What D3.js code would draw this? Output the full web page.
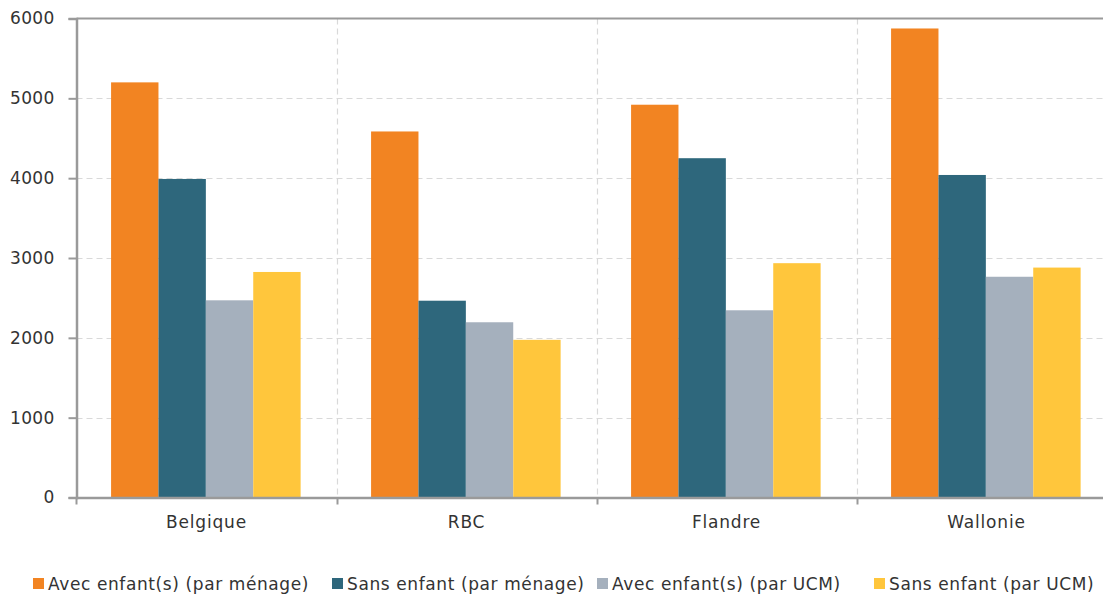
<!DOCTYPE html>
<html>
<head>
<meta charset="utf-8">
<script src="https://cdn.jsdelivr.net/npm/d3@7"></script>
<style>
  html, body { margin: 0; padding: 0; background: #fff; }
  svg { display: block; font-family: "DejaVu Sans", Verdana, sans-serif; }
</style>
</head>
<body>
<svg id="chart" width="1103" height="598"></svg>
<script>
const categories = ["Belgique", "RBC", "Flandre", "Wallonie"];
const seriesNames = [
  "Avec enfant(s) (par ménage)",
  "Sans enfant (par ménage)",
  "Avec enfant(s) (par UCM)",
  "Sans enfant (par UCM)"
];
const avecMenage = [5200, 4585, 4920, 5875];
const sansMenage = [3990, 2465, 4250, 4040];
const avecUCM = [2470, 2195, 2345, 2765];
const sansUCM = [2825, 1975, 2935, 2880];
const seriesValues = [avecMenage, sansMenage, avecUCM, sansUCM];
const seriesColors = ["#F28422", "#2E677C", "#A5B0BD", "#FFC63C"];
const yTicks = [0, 1000, 2000, 3000, 4000, 5000, 6000];

const svg = d3.select("#chart");
const mLeft = 76.5, mRight = 1116.5, mTop = 18.5, mBottom = 497.5;

const x0 = d3.scaleBand().domain(categories).range([mLeft, mRight]).padding(0);
const x1 = d3.scaleBand().domain(seriesNames)
  .range([x0.bandwidth() * 0.133, x0.bandwidth() * 0.862]).padding(0);
const y = d3.scaleLinear().domain([0, 6000]).range([mBottom, mTop]);
const color = d3.scaleOrdinal().domain(seriesNames).range(seriesColors);

// horizontal grid
svg.append("g").selectAll("line").data(yTicks.filter(d => d > 0 && d < 6000)).join("line")
  .attr("x1", mLeft).attr("x2", mRight)
  .attr("y1", d => Math.round(y(d)) + 0.5).attr("y2", d => Math.round(y(d)) + 0.5)
  .attr("stroke", "#d9d9d9").attr("stroke-width", 1.2).attr("stroke-dasharray", "6,4");

// vertical grid at category boundaries
svg.append("g").selectAll("line").data(categories.slice(1)).join("line")
  .attr("x1", d => Math.round(x0(d)) + 0.5).attr("x2", d => Math.round(x0(d)) + 0.5)
  .attr("y1", mTop).attr("y2", mBottom)
  .attr("stroke", "#d9d9d9").attr("stroke-width", 1.2).attr("stroke-dasharray", "6,4");

// bars
const rows = categories.map((c, i) => ({ cat: c, vals: seriesNames.map((s, j) => ({ s, v: seriesValues[j][i] })) }));
const groups = svg.append("g").selectAll("g").data(rows).join("g")
  .attr("transform", d => `translate(${x0(d.cat)},0)`);
groups.selectAll("rect").data(d => d.vals).join("rect")
  .attr("x", d => x1(d.s)).attr("width", x1.bandwidth())
  .attr("y", d => y(d.v)).attr("height", d => y(0) - y(d.v))
  .attr("fill", d => color(d.s));

// top border line
svg.append("line").attr("x1", mLeft).attr("x2", mRight).attr("y1", mTop).attr("y2", mTop)
  .attr("stroke", "#9a9a9a").attr("stroke-width", 2);

// y axis
const yAxis = svg.append("g").attr("transform", `translate(${mLeft},0)`)
  .call(d3.axisLeft(y).tickValues(yTicks).tickSize(8).tickPadding(14).tickFormat(d3.format("d")));
yAxis.select(".domain").attr("stroke", "#9a9a9a").attr("stroke-width", 2.5);
yAxis.selectAll(".tick line").attr("stroke", "#9a9a9a").attr("stroke-width", 2);
yAxis.selectAll("text").attr("font-size", 17).attr("fill", "#333").attr("font-family", "DejaVu Sans")
  .attr("letter-spacing", 0.3);

// x axis
const xAxis = svg.append("g").attr("transform", `translate(0,${mBottom})`)
  .call(d3.axisBottom(x0).tickSize(0).tickPadding(18));
xAxis.select(".domain").attr("stroke", "#9a9a9a").attr("stroke-width", 2.5);
xAxis.selectAll("text").attr("font-size", 17).attr("fill", "#333").attr("font-family", "DejaVu Sans")
  .attr("letter-spacing", 0.8);
svg.append("g").selectAll("line").data(categories.slice(1)).join("line")
  .attr("x1", d => Math.round(x0(d)) + 0.5).attr("x2", d => Math.round(x0(d)) + 0.5)
  .attr("y1", mBottom).attr("y2", mBottom + 7)
  .attr("stroke", "#9a9a9a").attr("stroke-width", 2);
svg.append("line").attr("x1", mLeft).attr("x2", mLeft).attr("y1", mBottom).attr("y2", mBottom + 7)
  .attr("stroke", "#9a9a9a").attr("stroke-width", 2);

// legend
const legendX = [33, 332, 597, 874];
const legend = svg.append("g");
const items = legend.selectAll("g").data(seriesNames).join("g")
  .attr("transform", (d, i) => `translate(${legendX[i]},578)`);
items.append("rect").attr("width", 11).attr("height", 11).attr("fill", d => color(d));
items.append("text").attr("x", 15).attr("y", 12).attr("font-size", 17).attr("fill", "#333")
  .attr("letter-spacing", 0.6)
  .text(d => d);
</script>
</body>
</html>
